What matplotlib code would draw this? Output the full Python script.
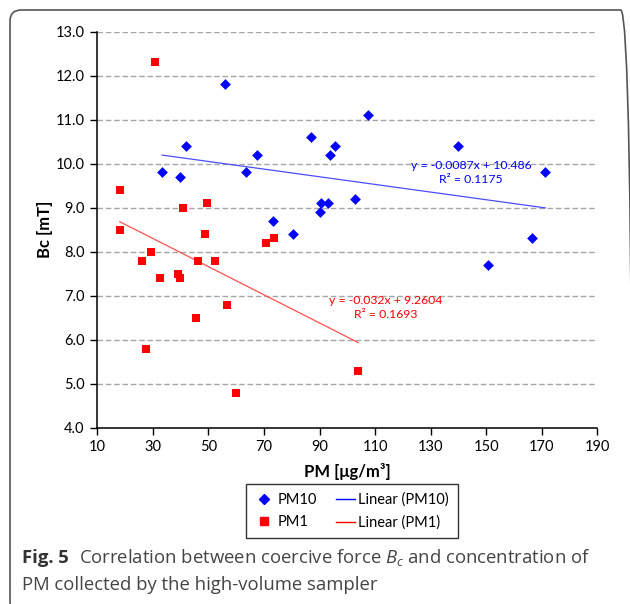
import matplotlib
matplotlib.use("Agg")
import matplotlib.pyplot as plt
import numpy as np
from matplotlib.patches import FancyBboxPatch
from matplotlib.lines import Line2D

plt.rcParams['font.family'] = ['Lato', 'DejaVu Sans']
plt.rcParams['mathtext.fontset'] = 'custom'
plt.rcParams['mathtext.rm'] = 'Open Sans'
plt.rcParams['mathtext.it'] = 'Open Sans:italic'

# PM10 series
pm10_x = [56.0, 41.8, 33.3, 39.8, 63.4, 67.6, 87.0, 93.9, 95.6, 90.4,
          93.2, 90.2, 73.1, 80.4, 107.4, 140.0, 102.9, 171.3, 166.5, 150.7]
pm10_y = [11.8, 10.4, 9.8, 9.7, 9.8, 10.2, 10.6, 10.2, 10.4, 9.1,
          9.1, 8.9, 8.7, 8.4, 11.1, 10.4, 9.2, 9.8, 8.3, 7.7]

# PM1 series
pm1_x = [18.2, 18.1, 26.0, 29.3, 30.8, 27.6, 32.7, 38.9, 39.7, 41.0,
         45.6, 46.1, 48.9, 49.5, 52.5, 56.7, 59.8, 70.6, 73.7, 104.0]
pm1_y = [9.4, 8.5, 7.8, 8.0, 12.3, 5.8, 7.4, 7.5, 7.4, 9.0,
         6.5, 7.8, 8.4, 9.1, 7.8, 6.8, 4.8, 8.2, 8.3, 5.3]

# trendline coefficients (slope, intercept) and R^2 as printed on the chart
pm10_fit = (-0.0087, 10.486)
pm1_fit = (-0.032, 9.2604)
pm10_r2 = 0.1175
pm1_r2 = 0.1693

xticks = list(range(10, 191, 20))
yticks = [4, 5, 6, 7, 8, 9, 10, 11, 12, 13]

W, H = 630, 604
fig = plt.figure(figsize=(W / 100, H / 100), dpi=100)

# rounded frame around the whole figure
frame = FancyBboxPatch((10 / W, -8 / H), 622 / W, (H - 10 + 8) / H,
                       boxstyle="round,pad=0,rounding_size=0.018",
                       transform=fig.transFigure, fill=False,
                       edgecolor='#555555', linewidth=1.2, clip_on=False)
fig.patches.append(frame)

ax = fig.add_axes([97.3 / W, 1 - 427.7 / H, 500 / W, 396 / H])
ax.set_xlim(10, 190)
ax.set_ylim(4, 13)
ax.set_xticks(xticks)
ax.set_yticks(yticks)
ax.set_yticklabels(['%.1f' % v for v in yticks])
ax.tick_params(labelsize=10.5, direction='out', length=5, width=1, colors='black', pad=4)
for s in ['top', 'right']:
    ax.spines[s].set_visible(False)
for s in ['left', 'bottom']:
    ax.spines[s].set_linewidth(1.1)
ax.yaxis.grid(True, linestyle=(0, (4, 2)), color='#a6a6a6', linewidth=1)
ax.set_axisbelow(True)

ax.scatter(pm10_x, pm10_y, marker='D', s=30, color='#0000ff', zorder=3, linewidths=0)
ax.scatter(pm1_x, pm1_y, marker='s', s=26, color='#ff0000', zorder=3, linewidths=0)

xb = np.array([min(pm10_x), max(pm10_x)])
ax.plot(xb, pm10_fit[0] * xb + pm10_fit[1], color='#4d4dff', linewidth=0.9, zorder=2)
xr = np.array([min(pm1_x), max(pm1_x)])
ax.plot(xr, pm1_fit[0] * xr + pm1_fit[1], color='#ff5050', linewidth=0.9, zorder=2)

ax.text(144.5, 9.8, 'y = %sx + %s\nR² = %s' % (pm10_fit[0], pm10_fit[1], pm10_r2),
        color='#0000ff', fontsize=8.8, ha='center', va='center', linespacing=1.4)
ax.text(113.9, 6.73, 'y = %sx + %s\nR² = %s' % (pm1_fit[0], pm1_fit[1], pm1_r2),
        color='#ff0000', fontsize=8.8, ha='center', va='center', linespacing=1.4)

ax.set_xlabel('PM [μg/m³]', fontsize=12, fontweight='bold', labelpad=6)
ax.set_ylabel('Bc [mT]', fontsize=12, fontweight='bold', labelpad=2)

handles = [Line2D([], [], marker='D', color='#0000ff', linestyle='none', markersize=5),
           Line2D([], [], marker='s', color='#ff0000', linestyle='none', markersize=6),
           Line2D([], [], color='#0000ff', linewidth=1),
           Line2D([], [], color='#ff0000', linewidth=1)]
labels = ['PM10', 'PM1', 'Linear (PM10)', 'Linear (PM1)']
leg = fig.legend(handles, labels, ncol=2, loc='center',
                 bbox_to_anchor=(352 / W, 1 - 511 / H), frameon=True,
                 fontsize=10.5, handlelength=1.3, handletextpad=0.25,
                 columnspacing=1.3, borderpad=0.6, labelspacing=0.6,
                 fancybox=False, edgecolor='black')
leg.get_frame().set_linewidth(1)

cap_font = ['Open Sans', 'DejaVu Sans']
t1 = fig.text(22 / W, 1 - 563 / H, 'Fig. 5', fontsize=13.3, fontweight='bold',
              family=cap_font, color='#333333', va='baseline')
fig.canvas.draw()
bb = t1.get_window_extent()
fig.text((bb.x1 + 10) / W, 1 - 563 / H,
         'Correlation between coercive force $B_c$ and concentration of',
         fontsize=13.3, family=cap_font, color='#444444', va='baseline')
fig.text(22 / W, 1 - 590 / H, 'PM collected by the high-volume sampler',
         fontsize=13.3, family=cap_font, color='#444444', va='baseline')

fig.savefig('out.png', dpi=100)
